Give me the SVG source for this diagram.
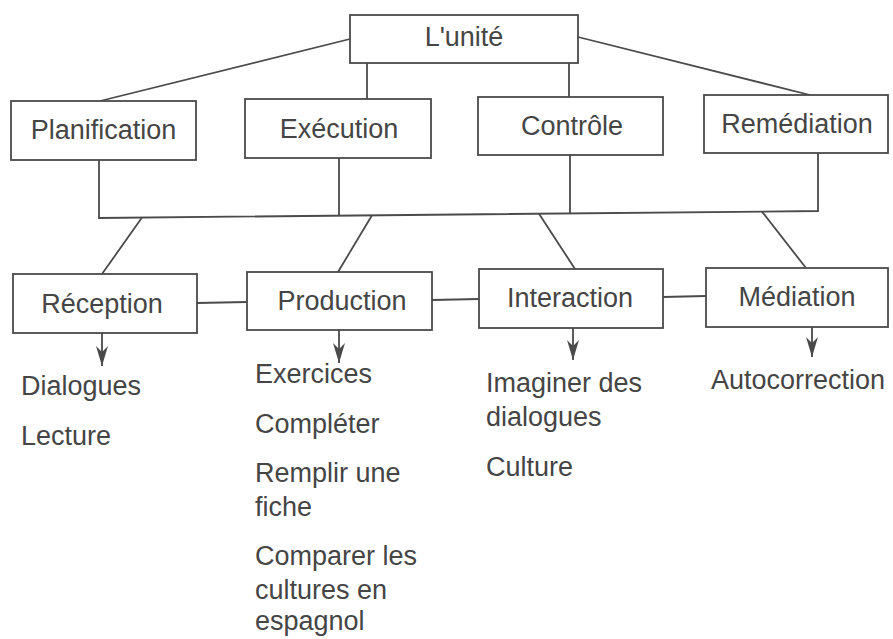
<svg xmlns="http://www.w3.org/2000/svg" width="893" height="639" viewBox="0 0 893 639">
<defs>
<style>
.box{fill:#fff;stroke:#4a4a4a;stroke-width:1.8}
.lbl{font-family:"Liberation Sans",Arial,sans-serif;font-size:27px;fill:#454545;text-anchor:middle}
.lst{font-family:"Liberation Sans",Arial,sans-serif;font-size:27px;fill:#454545}
.ln{fill:none;stroke:#4a4a4a;stroke-width:1.8}
</style>
<marker id="ah2" viewBox="0 0 20 12" refX="20" refY="6" markerWidth="20" markerHeight="12" markerUnits="userSpaceOnUse" orient="auto">
<path d="M0,0 L20,6 L0,12 L6,6 Z" fill="#4a4a4a"/>
</marker>
</defs>
<rect width="893" height="639" fill="#fff"/>
<g id="connectors">
<line class="ln" x1="350" y1="39" x2="100" y2="101"/>
<line class="ln" x1="367" y1="63" x2="367" y2="99"/>
<line class="ln" x1="569" y1="62" x2="569" y2="97"/>
<line class="ln" x1="578" y1="37" x2="810" y2="95"/>
<polyline class="ln" points="99,160 99,218 818,211 818,153"/>
<line class="ln" x1="339" y1="158" x2="339" y2="215.7"/>
<line class="ln" x1="570" y1="155" x2="570" y2="213.4"/>
<line class="ln" x1="142" y1="217.6" x2="102" y2="274"/>
<line class="ln" x1="372" y1="215.3" x2="338" y2="272"/>
<line class="ln" x1="539" y1="213.7" x2="575" y2="269"/>
<line class="ln" x1="762" y1="211.6" x2="806" y2="268"/>
<line class="ln" x1="197" y1="303" x2="247" y2="302"/>
<line class="ln" x1="432" y1="300" x2="479" y2="299"/>
<line class="ln" x1="663" y1="297" x2="706" y2="296"/>
<line class="ln" x1="102" y1="333" x2="102" y2="366" marker-end="url(#ah2)"/>
<line class="ln" x1="339" y1="330" x2="339" y2="363" marker-end="url(#ah2)"/>
<line class="ln" x1="573" y1="328" x2="573" y2="360" marker-end="url(#ah2)"/>
<line class="ln" x1="812" y1="327" x2="812" y2="357" marker-end="url(#ah2)"/>
</g>
<g id="unite"><rect class="box" x="350" y="15" width="228" height="48"/><text class="lbl" x="464" y="46">L'unité</text></g>
<g id="planification"><rect class="box" x="11" y="101" width="185" height="59"/><text class="lbl" x="103.5" y="139">Planification</text></g>
<g id="execution"><rect class="box" x="245" y="99" width="186" height="59"/><text class="lbl" x="339" y="138">Exécution</text></g>
<g id="controle"><rect class="box" x="478" y="97" width="185" height="58"/><text class="lbl" x="572" y="135">Contrôle</text></g>
<g id="remediation"><rect class="box" x="704" y="95" width="184" height="58"/><text class="lbl" x="797" y="133">Remédiation</text></g>
<g id="reception"><rect class="box" x="13" y="274" width="184" height="59"/><text class="lbl" x="102" y="313">Réception</text></g>
<g id="production"><rect class="box" x="247" y="272" width="185" height="58"/><text class="lbl" x="342" y="310">Production</text></g>
<g id="interaction"><rect class="box" x="479" y="269" width="184" height="59"/><text class="lbl" x="570" y="307">Interaction</text></g>
<g id="mediation"><rect class="box" x="706" y="268" width="182" height="59"/><text class="lbl" x="797" y="306">Médiation</text></g>
<g id="list-reception">
<text class="lst" x="21" y="395">Dialogues</text>
<text class="lst" x="21" y="445">Lecture</text>
</g>
<g id="list-production">
<text class="lst" x="255" y="383">Exercices</text>
<text class="lst" x="255" y="433">Compléter</text>
<text class="lst" x="255" y="482">Remplir une</text>
<text class="lst" x="255" y="516">fiche</text>
<text class="lst" x="255" y="565">Comparer les</text>
<text class="lst" x="255" y="599">cultures en</text>
<text class="lst" x="255" y="630">espagnol</text>
</g>
<g id="list-interaction">
<text class="lst" x="486" y="392">Imaginer des</text>
<text class="lst" x="486" y="426">dialogues</text>
<text class="lst" x="486" y="476">Culture</text>
</g>
<g id="list-mediation">
<text class="lst" x="711" y="389">Autocorrection</text>
</g>
</svg>
